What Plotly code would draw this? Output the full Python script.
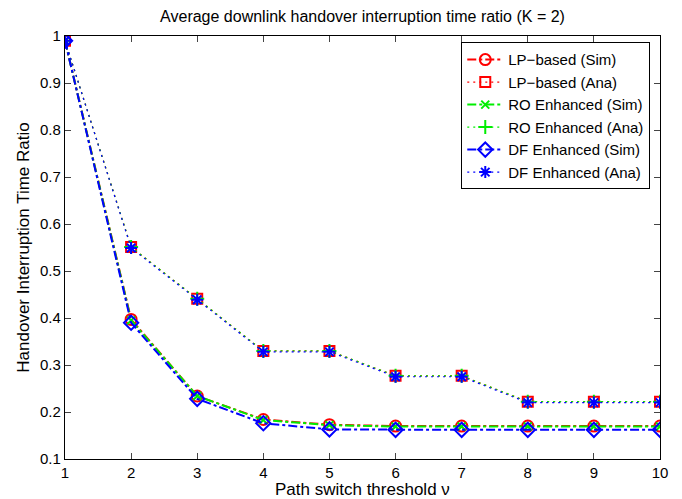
import plotly.graph_objects as go

x = [1, 2, 3, 4, 5, 6, 7, 8, 9, 10]
lp_sim = [0.99, 0.397, 0.234, 0.184, 0.173, 0.170, 0.170, 0.170, 0.170, 0.170]
lp_ana = [0.99, 0.551, 0.441, 0.330, 0.330, 0.277, 0.277, 0.222, 0.222, 0.222]
ro_sim = [0.99, 0.395, 0.234, 0.183, 0.172, 0.169, 0.169, 0.169, 0.169, 0.169]
ro_ana = [0.99, 0.551, 0.441, 0.330, 0.330, 0.277, 0.277, 0.222, 0.222, 0.222]
df_sim = [0.99, 0.390, 0.228, 0.176, 0.163, 0.162, 0.162, 0.162, 0.162, 0.162]
df_ana = [0.99, 0.549, 0.439, 0.328, 0.328, 0.275, 0.275, 0.220, 0.220, 0.220]

series = [
    ("LP\u2212based (Sim)", lp_sim, "#ff0000", "dashdot", "circle-open", 11),
    ("LP\u2212based (Ana)", lp_ana, "#ff0000", "dot", "square-open", 10),
    ("RO Enhanced (Sim)", ro_sim, "#00ee00", "dashdot", "x-thin-open", 8),
    ("RO Enhanced (Ana)", ro_ana, "#00ee00", "dot", "cross-thin-open", 10),
    ("DF Enhanced (Sim)", df_sim, "#0000ff", "dashdot", "diamond-open", 11),
    ("DF Enhanced (Ana)", df_ana, "#0000ff", "dot", "asterisk-open", 10),
]

fig = go.Figure()
for name, y, c, dash, sym, sz in series:
    fig.add_trace(go.Scatter(
        x=x, y=y, name=name, mode="lines+markers",
        line=dict(color=c, dash=dash if dash == "dashdot" else "2px,4px",
                  width=2 if dash == "dashdot" else 1.2),
        marker=dict(symbol=sym, size=sz, color=c, line=dict(color=c, width=2)),
    ))

font = "Liberation Sans, Arial, Helvetica, sans-serif"
fig.update_layout(
    width=682, height=499,
    margin=dict(l=65, r=22, t=36, b=40),
    paper_bgcolor="white", plot_bgcolor="white",
    font=dict(family=font, size=15, color="black"),
    title=dict(text="Average downlink handover interruption time ratio (K = 2)",
               x=(65 + 660) / 2 / 682, xanchor="center", y=0.967, yanchor="middle",
               font=dict(size=16)),
    xaxis=dict(range=[1, 10], tickvals=x, ticks="inside", ticklen=6,
               showline=True, linecolor="black", linewidth=1.2, mirror="ticks",
               showgrid=False, zeroline=False),
    yaxis=dict(title=dict(text="Handover Interruption Time Ratio", font=dict(size=17), standoff=6),
               range=[0.1, 1], tickvals=[0.1, 0.2, 0.3, 0.4, 0.5, 0.6, 0.7, 0.8, 0.9, 1],
               ticktext=["0.1", "0.2", "0.3", "0.4", "0.5", "0.6", "0.7", "0.8", "0.9", "1"],
               ticks="inside", ticklen=6,
               showline=True, linecolor="black", linewidth=1.2, mirror="ticks",
               showgrid=False, zeroline=False),
    legend=dict(x=0.666, y=0.985, xanchor="left", yanchor="top",
                bgcolor="white", bordercolor="black", borderwidth=1,
                font=dict(size=15), tracegroupgap=0, itemwidth=36),
    showlegend=True,
    annotations=[dict(text="Path switch threshold \u03bd", xref="paper", yref="paper",
                      x=0.5, y=-30 / 423, xanchor="center", yanchor="middle",
                      showarrow=False, font=dict(size=17))],
)
fig.write_html("out.html")
